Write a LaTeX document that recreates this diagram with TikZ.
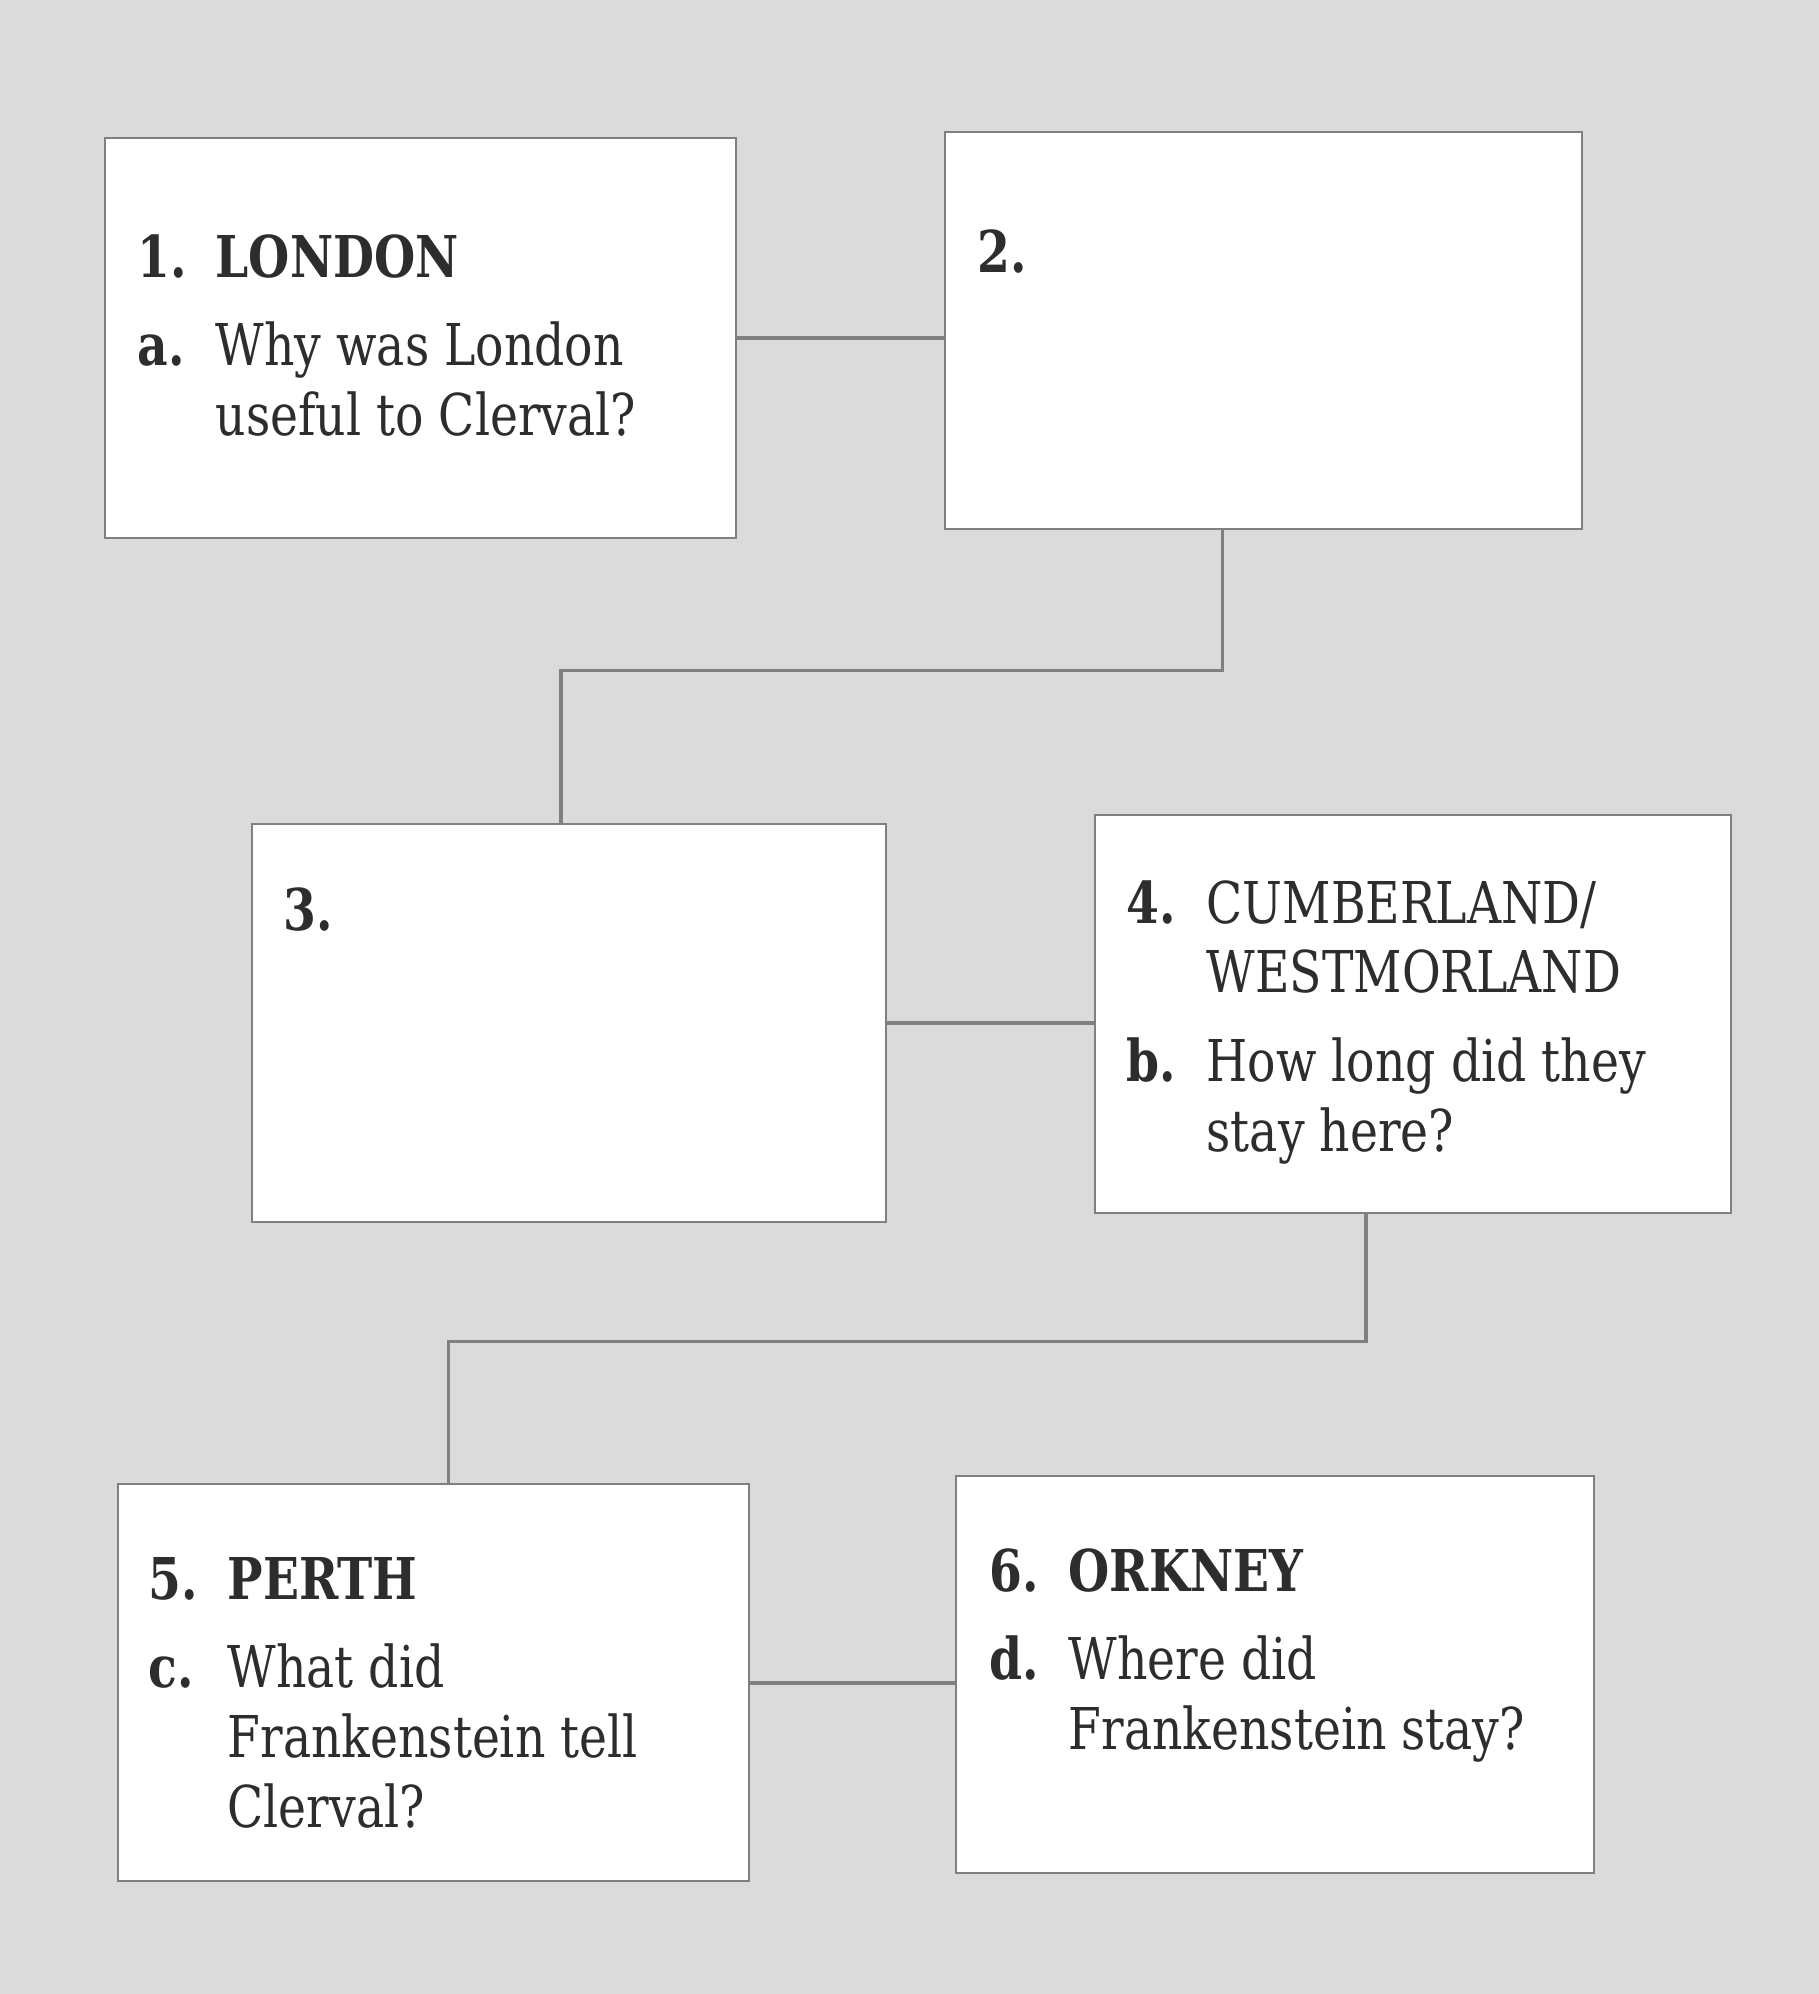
\documentclass[tikz,border=0pt]{standalone}
\usepackage{fontspec}
\setmainfont{DejaVu Serif}[FakeStretch=0.82]
\usetikzlibrary{positioning, calc}
\definecolor{pagegray}{RGB}{219,219,219}
\definecolor{rulegray}{RGB}{128,128,128}
\definecolor{inkgray}{RGB}{45,45,45}

\begin{document}
\begin{tikzpicture}[
  stopbox/.style={draw=rulegray, line width=0.7pt, fill=white, inner sep=0pt, anchor=north west},
  link/.style={draw=rulegray, line width=1pt},
  stoptext/.style={inner sep=0pt, anchor=base west, text=inkgray,
    font=\fontsize{16.4}{19.9}\selectfont}
]
\fill[pagegray] (0,0) rectangle (18.19,-19.94);
\node[stopbox, minimum width=6.31cm, minimum height=4.00cm] (box1) at (1.04,-1.37) {};
\node[stopbox, minimum width=6.37cm, minimum height=3.97cm] (box2) at (9.44,-1.31) {};
\node[stopbox, minimum width=6.34cm, minimum height=3.98cm] (box3) at (2.51,-8.23) {};
\node[stopbox, minimum width=6.36cm, minimum height=3.98cm] (box4) at (10.94,-8.14) {};
\node[stopbox, minimum width=6.31cm, minimum height=3.97cm] (box5) at (1.17,-14.83) {};
\node[stopbox, minimum width=6.38cm, minimum height=3.97cm] (box6) at (9.55,-14.75) {};
\node[stoptext] (text1) at ($(box1.north west)+(0.33,-1.40)$) {\begin{tabular}[t]{@{}p{0.78cm}@{}l@{}}
  \textbf{1.} & \textbf{LONDON}\\[5.4pt]
  \textbf{a.} & Why was London\\
   & useful to Clerval?
\end{tabular}};
\node[stoptext] (text2) at ($(box2.north west)+(0.33,-1.41)$) {\textbf{2.}};
\node[stoptext] (text3) at ($(box3.north west)+(0.32,-1.07)$) {\textbf{3.}};
\node[stoptext] (text4) at ($(box4.north west)+(0.32,-1.09)$) {\begin{tabular}[t]{@{}p{0.80cm}@{}l@{}}
  \textbf{4.} & CUMBERLAND/\\
   & WESTMORLAND\\[5.4pt]
  \textbf{b.} & How long did they\\
   & stay here?
\end{tabular}};
\node[stoptext] (text5) at ($(box5.north west)+(0.31,-1.16)$) {\begin{tabular}[t]{@{}p{0.79cm}@{}l@{}}
  \textbf{5.} & \textbf{PERTH}\\[5.4pt]
  \textbf{c.} & What did\\
   & Frankenstein tell\\
   & Clerval?
\end{tabular}};
\node[stoptext] (text6) at ($(box6.north west)+(0.34,-1.16)$) {\begin{tabular}[t]{@{}p{0.79cm}@{}l@{}}
  \textbf{6.} & \textbf{ORKNEY}\\[5.4pt]
  \textbf{d.} & Where did\\
   & Frankenstein stay?
\end{tabular}};
\draw[link] (box1.east) -- (box1.east -| box2.west);
\draw[link] ([xshift=-0.41cm]box2.south) -- ++(0,-1.40) -| ([xshift=-0.08cm]box3.north);
\draw[link] (box3.east) -- (box3.east -| box4.west);
\draw[link] ([xshift=-0.47cm]box4.south) -- ++(0,-1.27) -| ([xshift=0.15cm]box5.north);
\draw[link] (box5.east) -- (box5.east -| box6.west);
\end{tikzpicture}
\end{document}
